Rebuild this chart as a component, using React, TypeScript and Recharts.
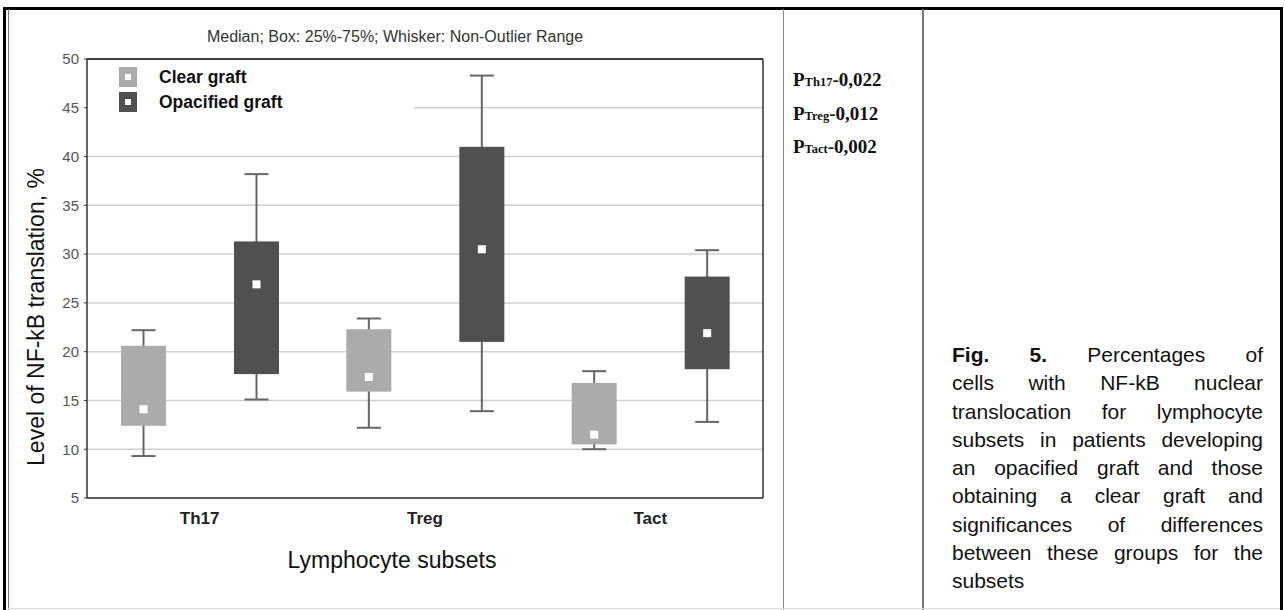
import React from 'react'
import { ComposedChart, Bar, XAxis, YAxis, CartesianGrid, Legend, ReferenceLine } from 'recharts'

const subsets = ['Th17', 'Treg', 'Tact']

// clear graft
const clearMin = [9.3, 12.2, 10.0]
const clearQ1 = [12.4, 15.9, 10.5]
const clearMedian = [14.1, 17.4, 11.5]
const clearQ3 = [20.6, 22.3, 16.8]
const clearMax = [22.2, 23.4, 18.0]

// opacified graft
const opacMin = [15.1, 13.9, 12.8]
const opacQ1 = [17.7, 21.0, 18.2]
const opacMedian = [26.9, 30.5, 21.9]
const opacQ3 = [31.3, 41.0, 27.7]
const opacMax = [38.2, 48.3, 30.4]

const yTicks = [5, 10, 15, 20, 25, 30, 35, 40, 45, 50]

const legendItems = [
    { name: 'Clear graft', color: '#ababab' },
    { name: 'Opacified graft', color: '#505050' },
]

const pValues = [
    { sub: 'Th17', value: '-0,022' },
    { sub: 'Treg', value: '-0,012' },
    { sub: 'Tact', value: '-0,002' },
]

const captionLines = [
    'cells with NF-kB nuclear',
    'translocation for lymphocyte',
    'subsets in patients developing',
    'an opacified graft and those',
    'obtaining a clear graft and',
    'significances of differences',
    'between these groups for the',
]

const ARIAL = "Arial, 'Liberation Sans', sans-serif"
const TIMES = "'Times New Roman', 'Liberation Serif', serif"

const makeBox = (key: 'clear' | 'opac', fill: string) => (props: any) => {
    const { x, y, width, height, payload } = props
    const [lo, hi] = payload[key]
    const top = Math.min(y, y + height)
    const bottom = Math.max(y, y + height)
    const py = (v: number) => top + ((hi - v) / (hi - lo)) * (bottom - top)
    const cx = x + width / 2
    const q1 = py(payload[key + 'Q1'])
    const q3 = py(payload[key + 'Q3'])
    const med = py(payload[key + 'Median'])
    const cap = 12
    return (
        <g>
            <line x1={cx} x2={cx} y1={py(hi)} y2={py(lo)} stroke="#666" strokeWidth={2} />
            <line x1={cx - cap} x2={cx + cap} y1={py(hi)} y2={py(hi)} stroke="#666" strokeWidth={2} />
            <line x1={cx - cap} x2={cx + cap} y1={py(lo)} y2={py(lo)} stroke="#666" strokeWidth={2} />
            <rect x={x} y={q3} width={width} height={q1 - q3} fill={fill} />
            <rect x={cx - 4} y={med - 4} width={8} height={8} fill="#fff" />
        </g>
    )
}

const renderLegend = () => (
    <div style={{ position: 'relative', width: 326, height: 62, background: '#fff' }}>
        {legendItems.map((item, i) => (
            <div key={item.name} style={{ position: 'absolute', left: 31, top: 4 + i * 25, height: 20, display: 'flex', alignItems: 'center' }}>
                <div style={{ width: 18, height: 20, background: item.color, display: 'flex', alignItems: 'center', justifyContent: 'center' }}>
                    <div style={{ width: 6, height: 6, background: '#fff' }} />
                </div>
                <span style={{ marginLeft: 22, fontSize: 17.5, fontWeight: 700, color: '#111', fontFamily: ARIAL }}>{item.name}</span>
            </div>
        ))}
    </div>
)

const renderYLabel = () => (
    <text x={36} y={317} transform="rotate(-90 36 317)" textAnchor="middle" dominantBaseline="central" fontSize={23} fill="#111" fontFamily={ARIAL}>
        Level of NF-kB translation, %
    </text>
)

const renderXLabel = () => (
    <text x={392} y={560} textAnchor="middle" dominantBaseline="central" fontSize={23} fill="#111" fontFamily={ARIAL}>
        Lymphocyte subsets
    </text>
)

const axisStroke = { stroke: '#333', strokeWidth: 1.5 }

export default function App() {
    const data = subsets.map((s, i) => ({
        subset: s,
        clear: [clearMin[i], clearMax[i]],
        clearQ1: clearQ1[i],
        clearMedian: clearMedian[i],
        clearQ3: clearQ3[i],
        opac: [opacMin[i], opacMax[i]],
        opacQ1: opacQ1[i],
        opacMedian: opacMedian[i],
        opacQ3: opacQ3[i],
    }))

    return (
        <div style={{ position: 'absolute', left: 0, top: 0, width: 1285, height: 610, background: '#fff', overflow: 'hidden', fontFamily: ARIAL }}>
            {/* figure frame */}
            <div style={{ position: 'absolute', left: 3, top: 7, width: 1280, height: 3, background: '#000' }} />
            <div style={{ position: 'absolute', left: 3, top: 7, width: 3, height: 603, background: '#000' }} />
            <div style={{ position: 'absolute', left: 8, top: 9, width: 1, height: 601, background: '#777' }} />
            <div style={{ position: 'absolute', left: 1280, top: 7, width: 3, height: 603, background: '#000' }} />
            <div style={{ position: 'absolute', left: 783, top: 9, width: 1, height: 601, background: '#888' }} />
            <div style={{ position: 'absolute', left: 922, top: 9, width: 2, height: 601, background: '#777' }} />
            <div style={{ position: 'absolute', left: 8, top: 608, width: 1272, height: 1, background: '#ddd' }} />

            <div style={{ position: 'absolute', left: 0, top: 0 }}>
                <ComposedChart
                    width={1285}
                    height={610}
                    data={data}
                    margin={{ top: 59, right: 521, bottom: 82, left: 27 }}
                    barSize={45}
                    barGap={68}
                >
                    <CartesianGrid vertical={false} stroke="#d0d0d0" strokeWidth={1.5} />
                    <XAxis
                        dataKey="subset"
                        height={30}
                        tickSize={5}
                        tickMargin={9}
                        axisLine={axisStroke}
                        tickLine={false}
                        tick={{ fontSize: 17, fontWeight: 700, fill: '#222', fontFamily: ARIAL }}
                        label={{ content: renderXLabel }}
                    />
                    <XAxis
                        xAxisId="top"
                        dataKey="subset"
                        type="category"
                        domain={subsets}
                        orientation="top"
                        height={1}
                        tickSize={4}
                        mirror
                        tick={false}
                        axisLine={axisStroke}
                        tickLine={{ stroke: '#333' }}
                    />
                    <YAxis
                        domain={[5, 50]}
                        ticks={yTicks}
                        interval={0}
                        width={60}
                        tickSize={3}
                        tickMargin={5}
                        axisLine={axisStroke}
                        tickLine={{ stroke: '#333' }}
                        tick={{ fontSize: 15, fill: '#555', fontFamily: ARIAL }}
                        label={{ content: renderYLabel }}
                    />
                    <YAxis
                        yAxisId="right"
                        orientation="right"
                        domain={[5, 50]}
                        ticks={yTicks}
                        interval={0}
                        width={1}
                        tickSize={-4}
                        tick={false}
                        axisLine={axisStroke}
                        tickLine={{ stroke: '#333' }}
                    />
                    <ReferenceLine y={50} stroke="#333" strokeWidth={1.5} ifOverflow="visible" />
                    <Legend
                        verticalAlign="middle"
                        align="center"
                        layout="horizontal"
                        width={326}
                        height={62}
                        wrapperStyle={{ left: 88, top: 63 }}
                        content={renderLegend}
                    />
                    <Bar dataKey="clear" fill="#ababab" shape={makeBox('clear', '#ababab')} isAnimationActive={false} />
                    <Bar dataKey="opac" fill="#505050" shape={makeBox('opac', '#505050')} isAnimationActive={false} />
                </ComposedChart>
            </div>

            {/* title */}
            <div style={{ position: 'absolute', left: 195, top: 28, width: 400, textAlign: 'center', fontSize: 16, color: '#333', whiteSpace: 'nowrap' }}>
                Median; Box: 25%-75%; Whisker: Non-Outlier Range
            </div>

            {/* p values */}
            {pValues.map((p, i) => (
                <div key={p.sub} style={{ position: 'absolute', left: 793, top: 70 + i * 33.5, fontFamily: TIMES, fontWeight: 700, fontSize: 19, lineHeight: '20px', color: '#111', whiteSpace: 'nowrap' }}>
                    P<span style={{ fontSize: 12.5 }}>{p.sub}</span>{p.value}
                </div>
            ))}

            {/* caption */}
            <div style={{ position: 'absolute', left: 952, top: 341, width: 311, fontSize: 21, lineHeight: '28.3px', color: '#111' }}>
                <div style={{ textAlign: 'justify', textAlignLast: 'justify' }}>
                    <b>Fig.</b> <b>5.</b> Percentages of
                </div>
                {captionLines.map((line) => (
                    <div key={line} style={{ textAlign: 'justify', textAlignLast: 'justify' }}>{line}</div>
                ))}
                <div>subsets</div>
            </div>
        </div>
    )
}
